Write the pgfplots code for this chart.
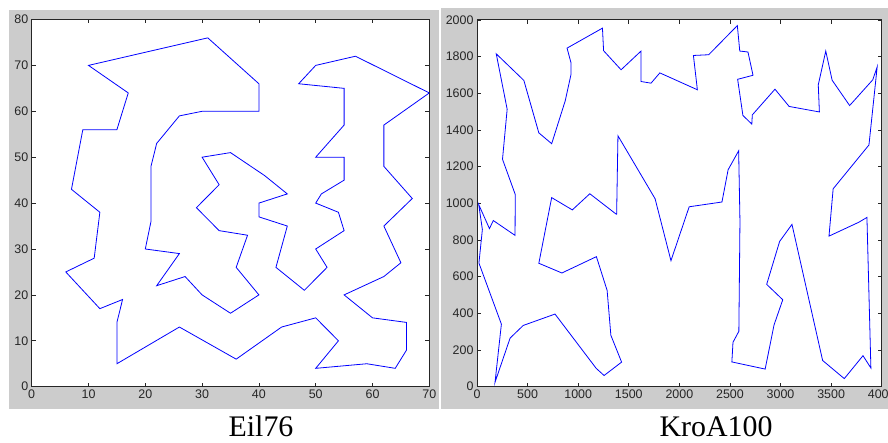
\documentclass[border=0pt]{standalone}
\usepackage{pgfplots}
\pgfplotsset{compat=1.18}
\usepackage{fontspec}
\setmainfont{Liberation Serif}
\newfontfamily\ticksf{Liberation Sans}
\definecolor{panelgray}{RGB}{204,204,204}
\definecolor{tourblue}{RGB}{0,0,255}
\pgfplotsset{tspaxis/.style={
  scale only axis, anchor=south west,
  axis background/.style={fill=white},
  axis line style={black!85, line width=0.8bp},
  tick align=inside, xtick pos=both, ytick pos=both,
  major tick length=4bp,
  tick style={black!85, line width=0.7bp},
  tick label style={font=\ticksf\fontsize{12.5}{12.5}\selectfont, text=black!85},
  /pgf/number format/assume math mode=true,
  /pgf/number format/set thousands separator={},
}}
\begin{document}
\begin{tikzpicture}[x=1bp,y=1bp]
\fill[white] (0,0) rectangle (888,443);
\path[use as bounding box] (0,0) rectangle (888,443);
\fill[panelgray] (9,33.7) rectangle (438.5,433);
\fill[panelgray] (441,33.7) rectangle (888,435);
\begin{axis}[tspaxis, at={(31.7bp,56.3bp)}, width=397.6bp, height=367.2bp,
  xmin=0, xmax=70, ymin=0, ymax=80,
  xtick={0,10,...,70}, ytick={0,10,...,80}]
\addplot[tourblue, line width=0.8bp, mark=none] coordinates {
(31,76) (10,70) (17,64) (15,56) (9,56) (7,43) (12,38) (11,28) (6,25) (12,17)
(16,19) (15,14) (15,5) (26,13) (36,6) (44,13) (50,15) (54,10) (50,4) (59,5)
(64,4) (66,8) (66,14) (60,15) (55,20) (62,24) (65,27) (62,35) (67,41) (62,48)
(62,57) (70,64) (57,72) (50,70) (47,66) (55,65) (55,57) (50,50) (55,50) (55,45)
(51,42) (50,40) (54,38) (55,34) (50,30) (52,26) (48,21) (43,26) (45,35) (40,37)
(40,40) (45,42) (41,46) (35,51) (30,50) (33,44) (29,39) (33,34) (38,33) (36,26)
(40,20) (35,16) (30,20) (27,24) (22,22) (26,29) (20,30) (21,36) (21,45) (21,48)
(22,53) (26,59) (30,60) (35,60) (40,60) (40,66) (31,76)
};
\end{axis}
\begin{axis}[tspaxis, at={(477bp,56.3bp)}, width=404.7bp, height=366.8bp,
  xmin=0, xmax=4000, ymin=0, ymax=2000,
  xtick={0,500,...,4000}, ytick={0,200,...,2000}]
\addplot[tourblue, line width=0.8bp, mark=none] coordinates {
(1380,939) (1393,1368) (1760,1025) (1917,687) (2097,981) (2421,1007) (2482,1183)
(2586,1286) (2599,901) (2588,302) (2530,242) (2519,135) (2848,96) (2936,337)
(3022,474) (2863,558) (2991,792) (3113,885) (3416,143) (3630,44) (3815,169)
(3893,102) (3854,923) (3775,897) (3479,821) (3520,1079) (3874,1318) (3955,1743)
(3911,1673) (3683,1533) (3510,1671) (3447,1830) (3373,1646) (3384,1498)
(3085,1528) (2945,1622) (2721,1482) (2716,1432) (2628,1479) (2576,1676)
(2728,1698) (2678,1825) (2597,1830) (2573,1969) (2290,1810) (2139,1806)
(2178,1619) (1807,1711) (1720,1655) (1621,1664) (1621,1830) (1424,1728)
(1251,1832) (1240,1955) (890,1846) (929,1766) (928,1700) (872,1559) (738,1325)
(611,1384) (463,1670) (190,1815) (298,1513) (252,1240) (378,1048) (376,825)
(161,906) (123,862) (17,993) (53,857) (19,674) (241,341) (178,24) (327,265)
(457,334) (771,396) (1178,100) (1256,61) (1429,134) (1323,280) (1286,525)
(1180,709) (839,620) (611,673) (738,1031) (942,964) (1115,1052) (1380,939)
};
\end{axis}
\node[anchor=base, inner sep=0pt, font=\fontsize{30}{30}\selectfont] at (261,6) {Eil76};
\node[anchor=base, inner sep=0pt, font=\fontsize{30}{30}\selectfont] at (716,6) {KroA100};
\end{tikzpicture}
\end{document}
